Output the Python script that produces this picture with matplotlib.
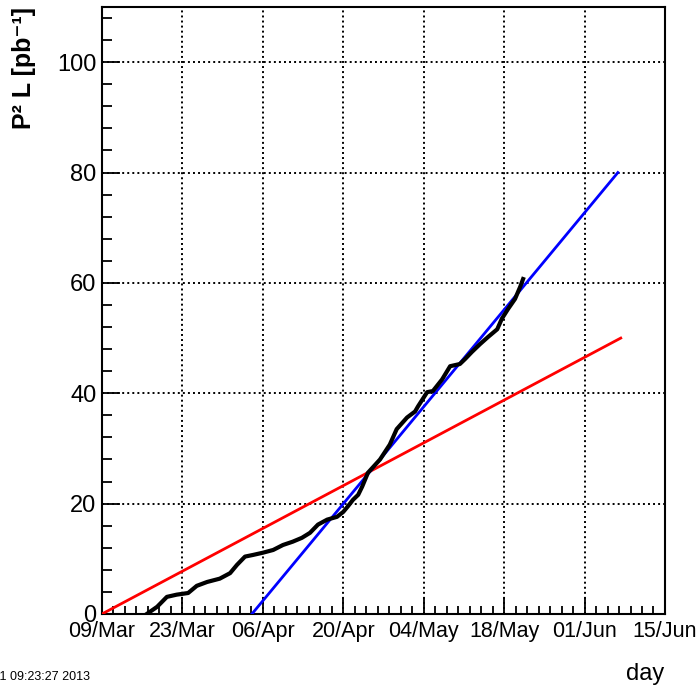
import numpy as np
import pandas as pd
import matplotlib
matplotlib.use('Agg')
import matplotlib.pyplot as plt
import matplotlib.dates as mdates
from matplotlib.ticker import MultipleLocator

plt.rcParams['font.family'] = ['Liberation Sans', 'DejaVu Sans']

start = pd.Timestamp('2013-03-09')

# delivered luminosity (days after 09/Mar, pb^-1)
lumi_days = [7.8, 9.6, 11.3, 13.0, 15.0, 16.5, 18.3, 20.5, 22.3, 23.5, 24.9, 26.3,
             28.0, 29.8, 31.5, 33.2, 34.8, 36.2, 37.6, 39.2, 40.9, 42.0, 42.8, 43.7,
             44.6, 45.3, 46.3, 48.4, 50.1, 51.3, 53.1, 54.5, 55.0, 56.6, 57.6, 59.2,
             60.6, 62.3, 63.2, 64.4, 65.8, 67.2, 68.8, 69.6, 70.7, 71.9, 72.8, 73.3]
lumi_vals = [0.0, 1.3, 3.1, 3.5, 3.8, 5.1, 5.8, 6.4, 7.4, 8.9, 10.4, 10.7,
             11.1, 11.6, 12.5, 13.1, 13.8, 14.7, 16.2, 17.1, 17.6, 18.5, 19.5, 20.7,
             21.6, 23.1, 25.6, 28.0, 30.7, 33.5, 35.6, 36.7, 37.6, 40.2, 40.4, 42.5,
             44.9, 45.3, 46.2, 47.5, 48.9, 50.2, 51.6, 53.5, 55.3, 57.1, 59.3, 60.7]

# target lines
red_days = [0.0, 90.3]
red_vals = [0.0, 50.0]
blue_days = [26.1, 89.8]
blue_vals = [0.0, 80.0]

tick_dates = pd.date_range('2013-03-09', periods=8, freq='14D')


def to_dates(days):
    return start + pd.to_timedelta(np.array(days), unit='D')


fig = plt.figure(figsize=(6.98, 6.87), dpi=100)
ax = fig.add_axes([0.1461, 0.1063, 0.8066, 0.8835])

ax.plot(to_dates(red_days), red_vals, color='#ff0000', lw=2, zorder=3)
ax.plot(to_dates(blue_days), blue_vals, color='#0000ff', lw=2, zorder=4)
ax.plot(to_dates(lumi_days), lumi_vals, color='black', lw=3, zorder=5)

ax.set_xlim(start, start + pd.Timedelta(days=98))
ax.set_ylim(0, 110)

ax.set_xticks(tick_dates)
ax.xaxis.set_major_formatter(mdates.DateFormatter('%d/%b'))
ax.xaxis.set_minor_locator(mdates.DayLocator(interval=2))
ax.yaxis.set_major_locator(MultipleLocator(20))
ax.yaxis.set_minor_locator(MultipleLocator(4))

ax.grid(True, which='major', color='black', linestyle=(0, (1, 1.6)), lw=1.4)
ax.tick_params(axis='both', which='both', direction='in', top=False, right=False,
               width=1.3, color='black')
ax.tick_params(axis='x', which='major', length=12, pad=5, labelsize=15.5)
ax.tick_params(axis='x', which='minor', length=5.5)
ax.tick_params(axis='y', which='major', length=13, pad=4, labelsize=17)
ax.tick_params(axis='y', which='minor', length=7)
for sp in ax.spines.values():
    sp.set_linewidth(1.5)

fig.text(0.034, 0.9898, 'P² L [pb⁻¹]', rotation=90, ha='center', va='top',
         fontsize=18, fontweight='bold')
fig.text(0.951, 0.003, 'day', ha='right', va='bottom', fontsize=17)
fig.text(0.129, 0.006, 'Tue May 21 09:23:27 2013', ha='right', va='bottom', fontsize=9)

fig.savefig('out.png', dpi=100)
